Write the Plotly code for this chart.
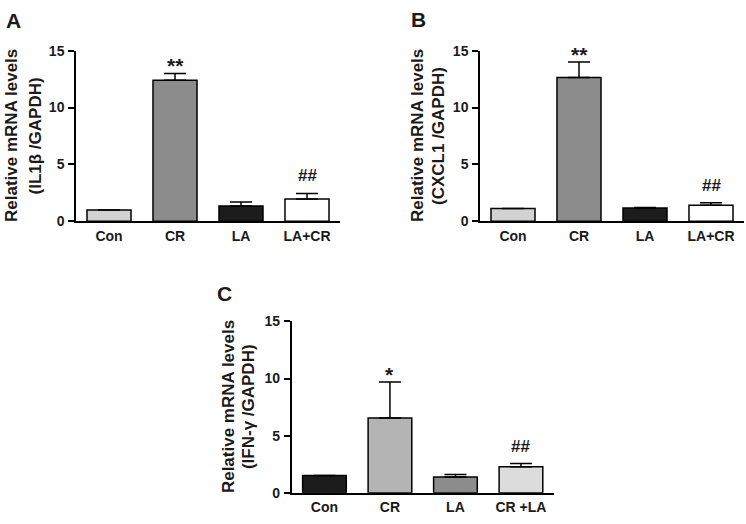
import plotly.graph_objects as go

W, H = 746, 524

# ---- data ----
cats_ab = ["Con", "CR", "LA", "LA+CR"]
cats_c = ["Con", "CR", "LA", "CR +LA"]

il1b_mean = [1.0, 12.4, 1.35, 1.95]
il1b_err = [0.0, 0.6, 0.35, 0.5]
cxcl1_mean = [1.13, 12.65, 1.17, 1.42]
cxcl1_err = [0.0, 1.35, 0.05, 0.2]
ifng_mean = [1.5, 6.55, 1.38, 2.27]
ifng_err = [0.0, 3.15, 0.22, 0.28]

sig_ab = ["", "**", "", "##"]
sig_c = ["", "*", "", "##"]

colors_ab = ["#d2d2d2", "#8c8c8c", "#1c1c1c", "#ffffff"]
colors_c = ["#1c1c1c", "#b4b4b4", "#8c8c8c", "#dcdcdc"]

ytitles = [("Relative mRNA levels", "(IL1β /GAPDH)"),
           ("Relative mRNA levels", "(CXCL1 /GAPDH)"),
           ("Relative mRNA levels", "(IFN-γ /GAPDH)")]
letters = ["A", "B", "C"]
yticks = [0, 5, 10, 15]

# ---- layout geometry (pixels) ----
panels = [
    dict(x0=76, x1=340, ytop=44, ybot=220, t1=12, t2=35.5, lx=13.5, ly=12.5),
    dict(x0=480, x1=744, ytop=44, ybot=220, t1=418, t2=439, lx=418, ly=11.5),
    dict(x0=291.7, x1=553.7, ytop=323.3, ybot=500, t1=228, t2=248, lx=225, ly=295),
]
datasets = [
    (cats_ab, il1b_mean, il1b_err, colors_ab, sig_ab),
    (cats_ab, cxcl1_mean, cxcl1_err, colors_ab, sig_ab),
    (cats_c, ifng_mean, ifng_err, colors_c, sig_c),
]

FONT = "Liberation Sans, Arial, Helvetica, sans-serif"
fig = go.Figure()
annotations = []
layout = {}

for i, (p, (cats, mean, err, cols, sig)) in enumerate(zip(panels, datasets)):
    n = i + 1
    xa = "x" if n == 1 else f"x{n}"
    ya = "y" if n == 1 else f"y{n}"
    fig.add_trace(go.Bar(
        x=cats, y=mean, xaxis=xa, yaxis=ya, width=0.667,
        marker=dict(color=cols, line=dict(color="black", width=1.5)),
        error_y=dict(type="data", array=err, arrayminus=[0] * len(err),
                     symmetric=False, color="black", thickness=1.5, width=11),
        showlegend=False, hoverinfo="skip",
    ))
    xkey = "xaxis" if n == 1 else f"xaxis{n}"
    ykey = "yaxis" if n == 1 else f"yaxis{n}"
    layout[xkey] = dict(
        domain=[p["x0"] / W, p["x1"] / W], anchor=ya, range=[-0.5, 3.5],
        showline=True, linecolor="black", linewidth=1.5, ticks="",
        showgrid=False, zeroline=False, fixedrange=True,
        tickfont=dict(family=FONT, size=14, color="#1a1a1a", weight="bold"),
        ticklabelstandoff=1,
    )
    layout[ykey] = dict(
        domain=[1 - p["ybot"] / H, 1 - p["ytop"] / H], anchor=xa, range=[0, 15],
        tickvals=yticks, showline=True, linecolor="black", linewidth=1.5,
        ticks="outside", ticklen=6, tickwidth=1.5, tickcolor="black",
        showgrid=False, zeroline=False, fixedrange=True,
        tickfont=dict(family=FONT, size=14, color="#1a1a1a", weight="bold"),
        ticklabelstandoff=1,
    )
    # significance marks
    for j, s in enumerate(sig):
        if not s:
            continue
        star = "*" in s
        annotations.append(dict(
            x=cats[j], y=mean[j] + err[j], xref=xa, yref=ya, text="<b>" + s + "</b>",
            showarrow=False, yanchor="bottom",
            yshift=-6 if star else 6,
            font=dict(family=FONT, size=21 if star else 17, color="#1a1a1a"),
        ))
    # y titles
    yc = 1 - (p["ytop"] + p["ybot"]) / 2 / H
    for txt, xc in zip(ytitles[i], (p["t1"], p["t2"])):
        annotations.append(dict(
            x=xc / W, y=yc, xref="paper", yref="paper", text=txt, textangle=-90,
            showarrow=False, xanchor="center", yanchor="middle",
            font=dict(family=FONT, size=17, color="#1a1a1a", weight="bold"),
        ))
    # panel letters
    annotations.append(dict(
        x=p["lx"] / W, y=1 - p["ly"] / H, xref="paper", yref="paper", text=letters[i],
        showarrow=False, xanchor="center", yanchor="middle",
        font=dict(family=FONT, size=21, color="#1a1a1a", weight="bold"),
    ))

fig.update_layout(
    width=W, height=H, margin=dict(l=0, r=0, t=0, b=0),
    paper_bgcolor="white", plot_bgcolor="white",
    annotations=annotations, **layout,
)
fig.write_html("out.html", config={"displayModeBar": False},
               post_script="document.body.style.margin='0';document.body.style.overflow='hidden';")
